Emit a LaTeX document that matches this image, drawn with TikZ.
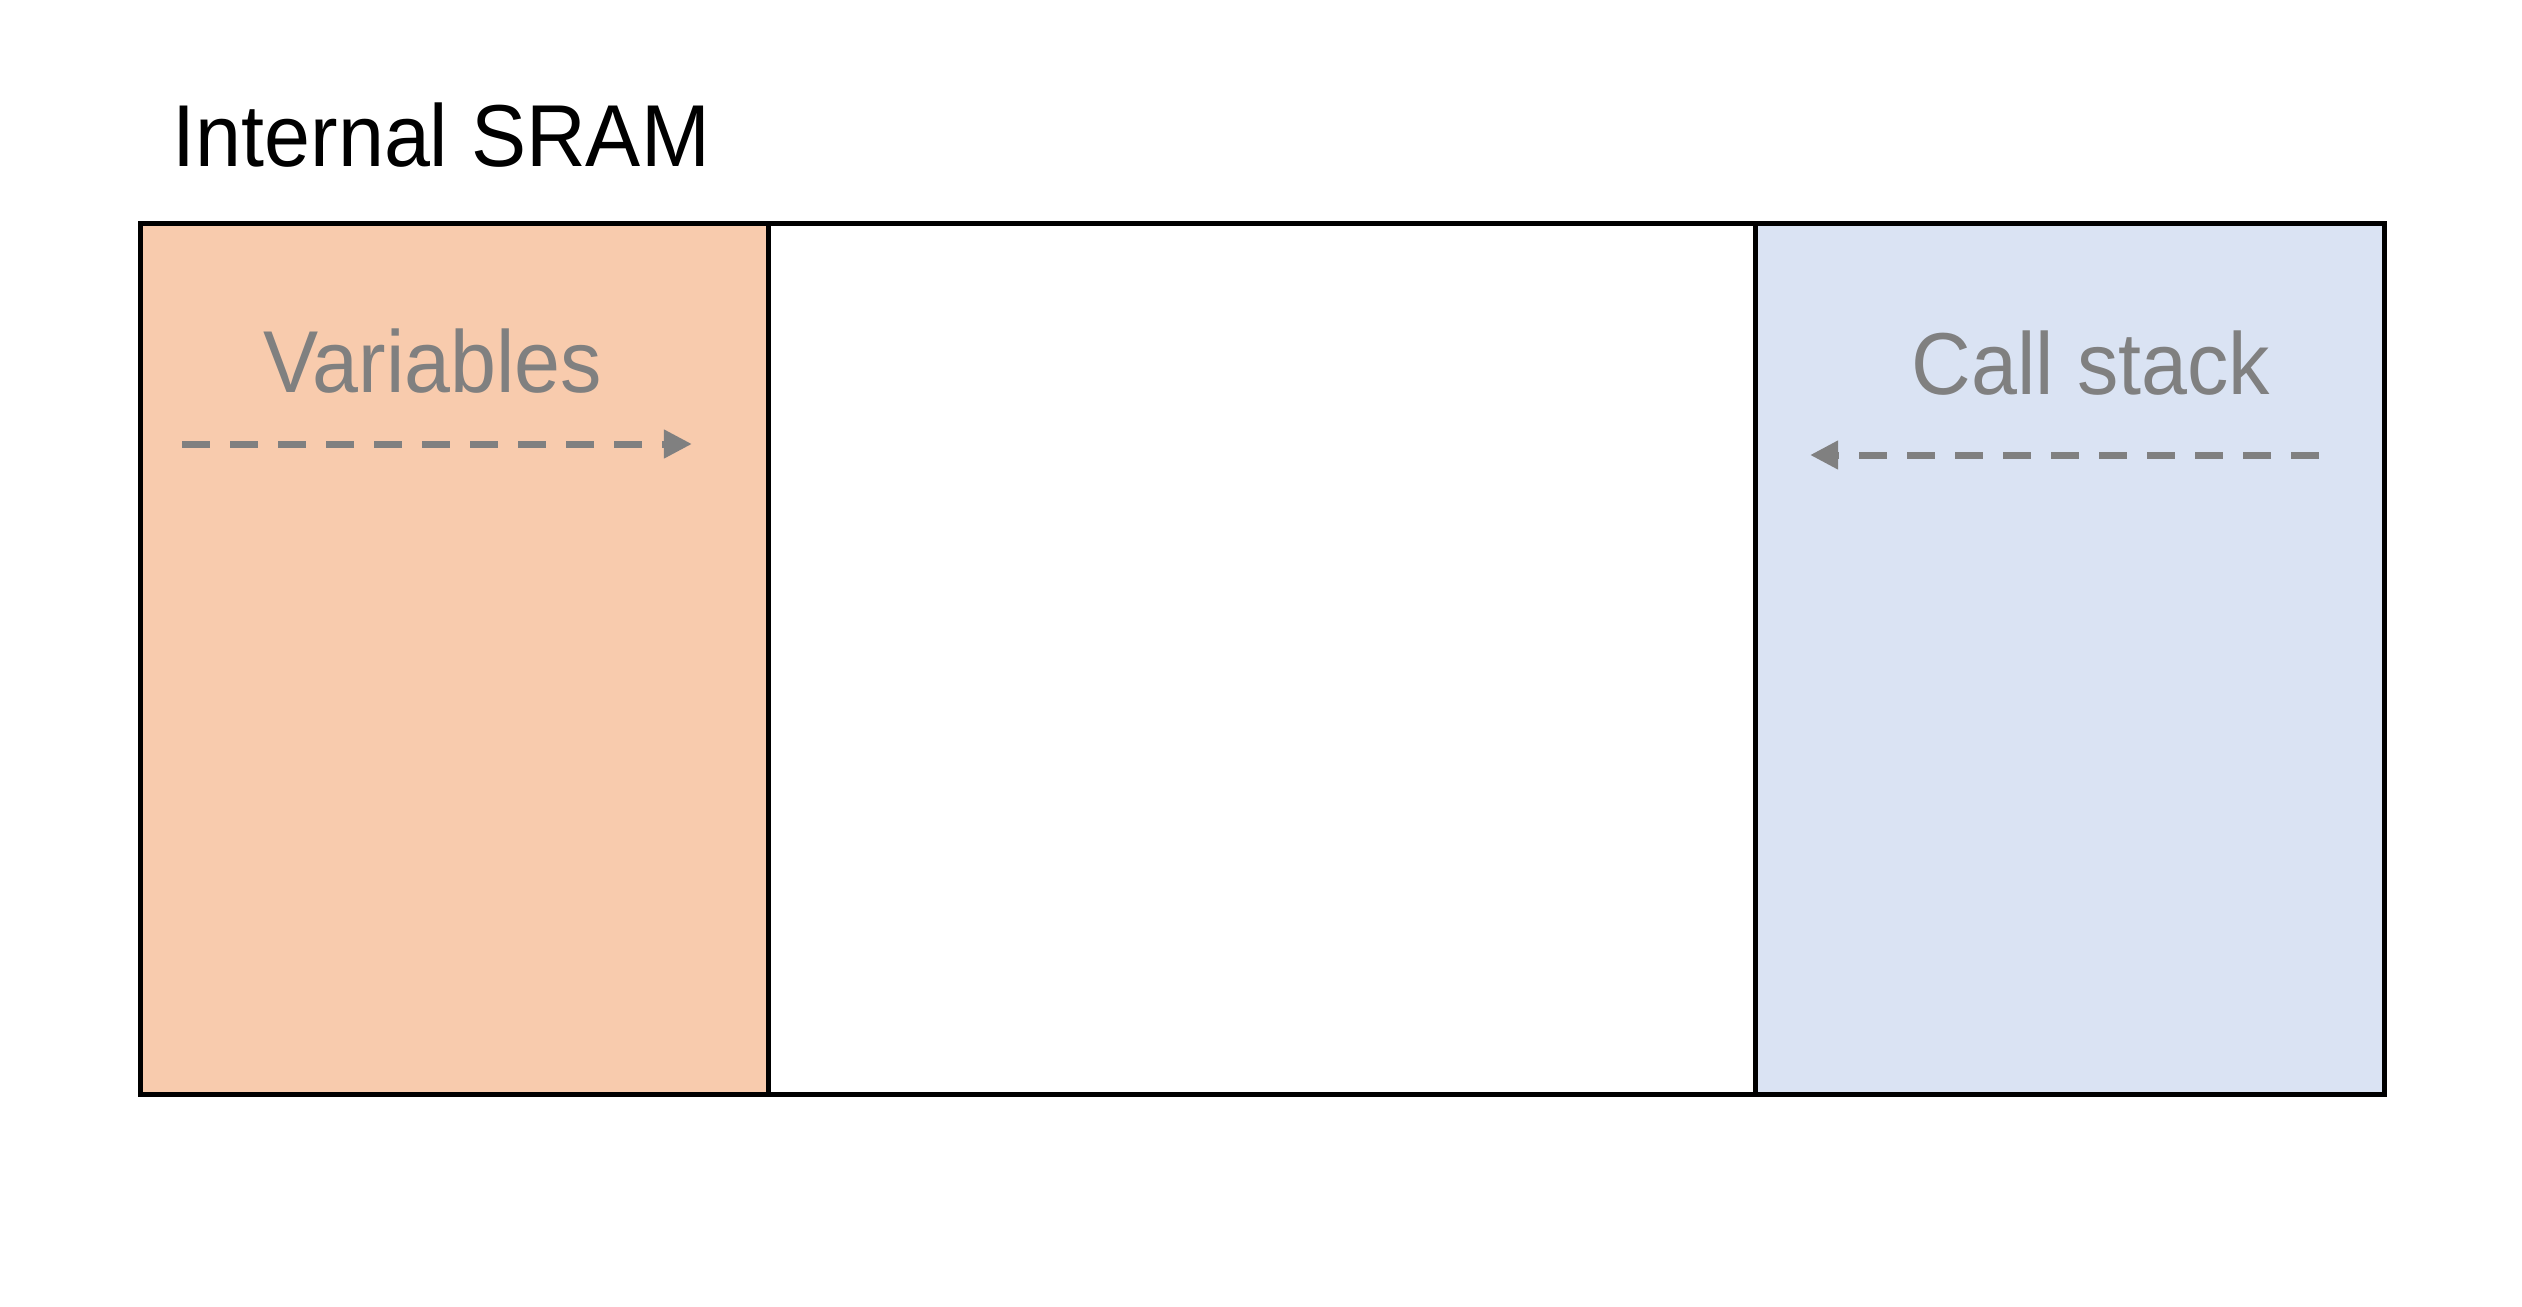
\documentclass[tikz,border=0pt]{standalone}
\usepackage{fontspec}
\usepackage{graphicx}
\setmainfont{Liberation Sans}
\usetikzlibrary{arrows.meta}
\definecolor{orangefill}{HTML}{F8CBAD}
\definecolor{bluefill}{HTML}{DAE3F3}
\definecolor{labelgray}{HTML}{808080}
\newcommand{\narrowtext}[1]{\scalebox{0.94}[1]{#1}}
\begin{document}
\begin{tikzpicture}[x=0.01cm,y=-0.01cm,
  region/.style={draw=black,line width=0.05cm,minimum width=#1*0.01cm,minimum height=870.5*0.01cm,inner sep=0pt,outer sep=0pt,anchor=north west},
  biglabel/.style={font=\fontsize{25}{30}\selectfont,inner sep=0pt,anchor=base},
  growarrow/.style={draw=labelgray,line width=0.07cm,dash pattern=on 0.28cm off 0.2cm,-{Triangle[length=0.28cm,width=0.27cm]}}]
\useasboundingbox[fill=white] (0,0) rectangle (2522,1306);
\node[region=628.5,fill=orangefill] (vars) at (140,223.5) {};
\node[region=986.5,fill=white] (free) at (768.5,223.5) {};
\node[region=629,fill=bluefill] (stack) at (1755,223.5) {};
\node[biglabel,anchor=base west] (title) at (172,166) {\narrowtext{Internal SRAM}};
\node[biglabel,text=labelgray] (varslabel) at (433,392) {\narrowtext{Variables}};
\node[biglabel,text=labelgray] (stacklabel) at (2091,394) {\narrowtext{Call stack}};
\coordinate (v1) at (182,444);
\coordinate (v2) at (692,444);
\coordinate (s1) at (2319,455);
\coordinate (s2) at (1810,455);
\draw[growarrow] (v1) -- (v2);
\draw[growarrow] (s1) -- (s2);
\end{tikzpicture}
\end{document}
